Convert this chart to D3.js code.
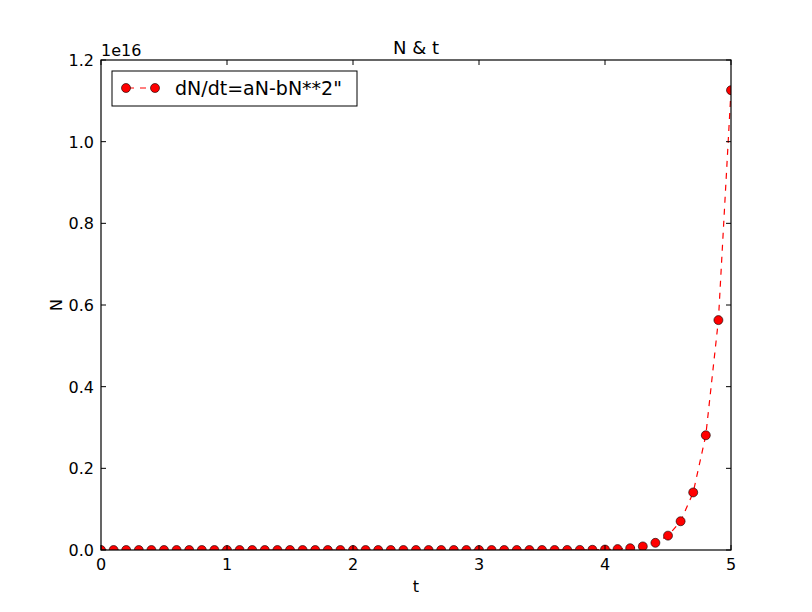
<!DOCTYPE html>
<html><head><meta charset="utf-8">
<script src="https://cdn.jsdelivr.net/npm/d3@7"></script>
<style>body{margin:0;background:#fff}text{font-family:"DejaVu Sans",sans-serif}</style>
</head><body><svg id="c" width="812" height="612"></svg>
<script>
const tValues = [0,0.1,0.2,0.3,0.4,0.5,0.6,0.7,0.8,0.9,1,1.1,1.2,1.3,1.4,1.5,1.6,1.7,1.8,1.9,2,2.1,2.2,2.3,2.4,2.5,2.6,2.7,2.8,2.9,3,3.1,3.2,3.3,3.4,3.5,3.6,3.7,3.8,3.9,4,4.1,4.2,4.3,4.4,4.5,4.6,4.7,4.8,4.9,5];
const nValues = [1e1,2e1,4e1,8e1,1.6e2,3.2e2,6.4e2,1.28e3,2.56e3,5.12e3,1.02e4,2.05e4,4.1e4,8.19e4,1.64e5,3.28e5,6.55e5,1.31e6,2.62e6,5.24e6,1.05e7,2.1e7,4.19e7,8.39e7,1.68e8,3.36e8,6.71e8,1.34e9,2.68e9,5.37e9,1.07e10,2.15e10,4.29e10,8.59e10,1.72e11,3.44e11,6.87e11,1.37e12,2.75e12,5.5e12,1.1e13,2.2e13,4.4e13,8.8e13,1.76e14,3.52e14,7.04e14,1.41e15,2.81e15,5.63e15,1.126e16];
const xTicks = [0,1,2,3,4,5];
const yTicks = [0,0.2e16,0.4e16,0.6e16,0.8e16,1.0e16,1.2e16];
const yTickLabels = ["0.0","0.2","0.4","0.6","0.8","1.0","1.2"];
const seriesLabel = 'dN/dt=aN-bN**2"';

const svg = d3.select("#c");
const L=101,R=731,T=60,B=550;
const x = d3.scaleLinear().domain([0,5]).range([L,R]);
const y = d3.scaleLinear().domain([0,1.2e16]).range([B,T]);
svg.append("defs").append("clipPath").attr("id","clip").append("rect").attr("x",L).attr("y",T).attr("width",R-L).attr("height",B-T);

const g = svg.append("g").attr("clip-path","url(#clip)");
const line = d3.line().x((d,i)=>x(tValues[i])).y(d=>y(d));
g.append("path").attr("d",line(nValues)).attr("fill","none").attr("stroke","#ff0000").attr("stroke-width",1.2).attr("stroke-dasharray","6,6");
g.selectAll("circle").data(nValues).join("circle").attr("cx",(d,i)=>x(tValues[i])).attr("cy",d=>y(d)).attr("r",4.5).attr("fill","#ff0000").attr("stroke","#000").attr("stroke-width",0.6);

svg.append("rect").attr("x",L).attr("y",T).attr("width",R-L).attr("height",B-T).attr("fill","none").attr("stroke","#000").attr("stroke-width",1.2);
const ax = svg.append("g");
xTicks.forEach(v=>{
  ax.append("line").attr("x1",x(v)).attr("x2",x(v)).attr("y1",B).attr("y2",B-5).attr("stroke","#000");
  ax.append("line").attr("x1",x(v)).attr("x2",x(v)).attr("y1",T).attr("y2",T+5).attr("stroke","#000");
  ax.append("text").attr("x",x(v)).attr("y",B+20).attr("text-anchor","middle").attr("font-size",16).text(v);
});
yTicks.forEach((v,i)=>{
  ax.append("line").attr("x1",L).attr("x2",L+5).attr("y1",y(v)).attr("y2",y(v)).attr("stroke","#000");
  ax.append("line").attr("x1",R).attr("x2",R-5).attr("y1",y(v)).attr("y2",y(v)).attr("stroke","#000");
  ax.append("text").attr("x",L-7).attr("y",y(v)+6).attr("text-anchor","end").attr("font-size",16).text(yTickLabels[i]);
});
svg.append("text").attr("x",L).attr("y",T-4).attr("font-size",16).text("1e16");
svg.append("text").attr("x",(L+R)/2).attr("y",T-6).attr("text-anchor","middle").attr("font-size",18).text("N & t");
svg.append("text").attr("x",(L+R)/2).attr("y",592).attr("text-anchor","middle").attr("font-size",16).text("t");
svg.append("text").attr("transform",`translate(62,${(T+B)/2}) rotate(-90)`).attr("text-anchor","middle").attr("font-size",16).text("N");

const lg = svg.append("g");
lg.append("rect").attr("x",112).attr("y",71).attr("width",245).attr("height",35).attr("fill","#fff").attr("stroke","#000").attr("stroke-width",1);
lg.append("line").attr("x1",126).attr("x2",155).attr("y1",88).attr("y2",88).attr("stroke","#ff0000").attr("stroke-width",1.2).attr("stroke-dasharray","6,6").attr("stroke-dashoffset",-2);
[126,155].forEach(cx=>lg.append("circle").attr("cx",cx).attr("cy",88).attr("r",4.5).attr("fill","#ff0000").attr("stroke","#000").attr("stroke-width",0.6));
lg.append("text").attr("x",175).attr("y",95).attr("font-size",19).text(seriesLabel);
</script></body></html>
